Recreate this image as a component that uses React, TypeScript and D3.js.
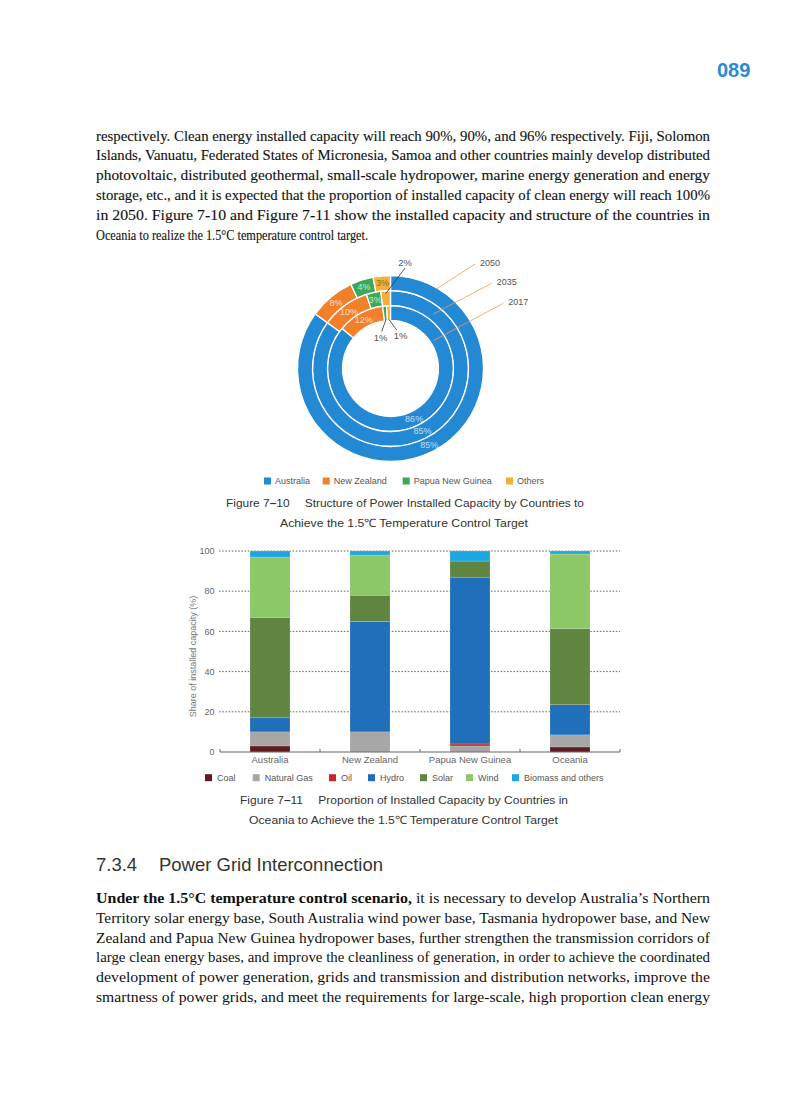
import * as d3 from 'd3';
import React from 'react';

// ---- Figure 7-10 data (share of installed capacity, %) ----
const years = ['2017', '2035', '2050'];
const countries = ['Australia', 'New Zealand', 'Papua New Guinea', 'Others'];
const share2017 = [86, 12, 1, 1];
const share2035 = [85, 10, 3, 2];
const share2050 = [85, 8, 4, 3];
const countryColors = ['#2389d4', '#f37f2a', '#3aa95a', '#f2b03a'];

// ---- Figure 7-11 data (share of installed capacity, %) ----
const regions = ['Australia', 'New Zealand', 'Papua New Guinea', 'Oceania'];
const fuels = ['Coal', 'Natural Gas', 'Oil', 'Hydro', 'Solar', 'Wind', 'Biomass and others'];
const coal = [3, 0, 0, 2.5];
const naturalGas = [7, 10, 3, 6];
const oil = [0, 0, 1, 0];
const hydro = [7, 55, 83, 15];
const solar = [50, 13, 8, 38];
const wind = [30, 20, 0, 37];
const biomass = [3, 2, 5, 1.5];
const fuelColors = ['#5e1c1e', '#a6a6a6', '#c9252c', '#1f6fba', '#5f8541', '#8cc866', '#1da6e1'];
const yTicks = [0, 20, 40, 60, 80, 100];

// ---- page text ----
const topLines = [
  'respectively. Clean energy installed capacity will reach 90%, 90%, and 96% respectively. Fiji, Solomon',
  'Islands, Vanuatu, Federated States of Micronesia, Samoa and other countries mainly develop distributed',
  'photovoltaic, distributed geothermal, small-scale hydropower, marine energy generation and energy',
  'storage, etc., and it is expected that the proportion of installed capacity of clean energy will reach 100%',
  'in 2050. Figure 7-10 and Figure 7-11 show the installed capacity and structure of the countries in',
  'Oceania to realize the 1.5\u00b0C temperature control target.',
];
const bottomLead = 'Under the 1.5\u00b0C temperature control scenario,';
const bottomLines = [
  ' it is necessary to develop Australia\u2019s Northern',
  'Territory solar energy base, South Australia wind power base, Tasmania hydropower base, and New',
  'Zealand and Papua New Guinea hydropower bases, further strengthen the transmission corridors of',
  'large clean energy bases, and improve the cleanliness of generation, in order to achieve the coordinated',
  'development of power generation, grids and transmission and distribution networks, improve the',
  'smartness of power grids, and meet the requirements for large-scale, high proportion clean energy',
];

const SANS = '"Liberation Sans", Arial, sans-serif';
const SERIF = '"Liberation Serif", "Times New Roman", serif';
const TEXT_LEFT = 96;
const TEXT_WIDTH = 614;

const Paragraph = ({ lines, top, lastWidth }: any) => (
  <g fontFamily={SERIF} fontSize={15.5} fill="#111" stroke="#111" strokeWidth={0.12}>
    {lines.map((l: string, i: number) => {
      const last = i === lines.length - 1 && lastWidth;
      return (
        <text
          key={i}
          x={TEXT_LEFT}
          y={top + i * 19.8}
          textLength={last ? lastWidth : TEXT_WIDTH}
          lengthAdjust="spacingAndGlyphs"
        >
          {l}
        </text>
      );
    })}
  </g>
);

const Donut = () => {
  const cx = 390.5;
  const cy = 368.5;
  const ring = d3.scaleLinear().domain([0, 3]).range([48, 93]);
  const pie = d3.pie<number>().sort(null).value((d) => d).startAngle(0).endAngle(Math.PI * 2);
  const rings = [share2017, share2035, share2050].map((vals, i) => ({
    year: years[i],
    inner: ring(i),
    outer: ring(i + 1),
    arcs: pie(vals),
  }));

  const polar = (a: number, r: number): [number, number] => [cx + r * Math.sin(a), cy - r * Math.cos(a)];

  // small slices labelled outside the ring
  const callouts = [
    { ringIdx: 1, slice: 3, r0: 75, end: [14.5, -100.5], text: [14.5, -103] },
    { ringIdx: 0, slice: 2, r0: 49, end: [-8.8, -36.8], text: [-9.8, -28] },
    { ringIdx: 0, slice: 3, r0: 49, end: [6.2, -38.5], text: [10.2, -30] },
  ];
  // year leader lines: from label to ring
  const yearLeaders = [
    { year: '2050', from: [84.5, -104.5], to: [45.5, -79.2] },
    { year: '2035', from: [101.2, -85.2], to: [42.8, -54.5] },
    { year: '2017', from: [112.8, -65.2], to: [42.8, -27.8] },
  ];

  const legendX = [264, 322.7, 402.7, 506];

  return (
    <g fontFamily={SANS}>
      {rings.map((r) => {
        const arc = d3.arc<any>().innerRadius(r.inner).outerRadius(r.outer);
        return (
          <g key={r.year} transform={`translate(${cx},${cy})`}>
            {r.arcs.map((a, j) => (
              <path key={j} d={arc(a) as string} fill={countryColors[j]} stroke="#fff" strokeWidth={1.3} />
            ))}
            {r.arcs.map((a, j) => {
              if (a.data < 3) return null;
              const [x, y] = arc.centroid(a);
              return (
                <text
                  key={'t' + j}
                  x={x}
                  y={y + 3.1}
                  textAnchor="middle"
                  fontSize={9}
                  fill={j === 3 ? '#7b5d1e' : '#ffffff'}
                  fillOpacity={j === 3 ? 0.9 : 0.72}
                >
                  {a.data}%
                </text>
              );
            })}
          </g>
        );
      })}
      {callouts.map((c, i) => {
        const a = rings[c.ringIdx].arcs[c.slice];
        const mid = (a.startAngle + a.endAngle) / 2;
        const [x0, y0] = polar(mid, c.r0);
        return (
          <g key={'c' + i}>
            <line x1={x0} y1={y0} x2={cx + c.end[0]} y2={cy + c.end[1]} stroke="#333" strokeWidth={0.8} />
            <text x={cx + c.text[0]} y={cy + c.text[1]} textAnchor="middle" fontSize={9.5} fill="#555">
              {a.data}%
            </text>
          </g>
        );
      })}
      {yearLeaders.map((l) => (
        <g key={l.year}>
          <line
            x1={cx + l.from[0]}
            y1={cy + l.from[1]}
            x2={cx + l.to[0]}
            y2={cy + l.to[1]}
            stroke="#f09a5a"
            strokeWidth={0.8}
          />
          <text x={cx + l.from[0] + 5} y={cy + l.from[1] + 1.5} fontSize={9} fill="#555">
            {l.year}
          </text>
        </g>
      ))}
      {countries.map((c, i) => (
        <g key={c}>
          <rect x={legendX[i]} y={477.5} width={7} height={7} fill={countryColors[i]} />
          <text x={legendX[i] + 11} y={484.3} fontSize={9} fill="#555">
            {c}
          </text>
        </g>
      ))}
      <text x={226} y={507} fontSize={11.5} fill="#333" textLength={358} lengthAdjust="spacingAndGlyphs">
        {'Figure 7'}
        <tspan fontWeight="bold">{'\u2013'}</tspan>
        {'10\u2003 Structure of Power Installed Capacity by Countries to'}
      </text>
      <text x={280} y={527} fontSize={11.5} fill="#333" textLength={248} lengthAdjust="spacingAndGlyphs">
        {'Achieve the 1.5\u2103 Temperature Control Target'}
      </text>
    </g>
  );
};

const StackedBars = () => {
  const x = d3.scaleBand().domain(regions).range([220, 620]).paddingInner(0.6).paddingOuter(0.3);
  const y = d3.scaleLinear().domain([0, 100]).range([752, 551]);
  const series = [coal, naturalGas, oil, hydro, solar, wind, biomass];
  const rows = regions.map((r, i) => {
    const row: any = { region: r };
    fuels.forEach((f, k) => (row[f] = series[k][i]));
    return row;
  });
  const stacked = d3.stack<any>().keys(fuels)(rows);
  const edges = d3.range(regions.length + 1).map((i) => 220 + i * x.step());
  const legendX = [205, 252.7, 329, 368, 420, 466, 512];

  return (
    <g fontFamily={SANS}>
      {yTicks.map((t) => (
        <g key={t}>
          {t > 0 && (
            <line x1={219} x2={620} y1={y(t)} y2={y(t)} stroke="#444" strokeWidth={0.8} strokeDasharray="1.6,1.6" />
          )}
          <text x={214.5} y={y(t) + 3.2} textAnchor="end" fontSize={9} fill="#666">
            {t}
          </text>
        </g>
      ))}
      {stacked.map((s, k) => (
        <g key={fuels[k]} fill={fuelColors[k]}>
          {s.map((d, i) =>
            d[1] - d[0] > 0 ? (
              <rect
                key={i}
                x={x(regions[i])}
                y={y(d[1])}
                width={x.bandwidth()}
                height={y(d[0]) - y(d[1])}
                stroke="#fff"
                strokeOpacity={0.35}
                strokeWidth={0.5}
              />
            ) : null,
          )}
        </g>
      ))}
      <line x1={220} x2={620} y1={752} y2={752} stroke="#666" strokeWidth={1} />
      {edges.map((e) => (
        <line key={e} x1={e} x2={e} y1={752} y2={749} stroke="#666" strokeWidth={1} />
      ))}
      {regions.map((r) => (
        <text key={r} x={(x(r) as number) + x.bandwidth() / 2} y={763} textAnchor="middle" fontSize={9.5} fill="#666">
          {r}
        </text>
      ))}
      <text
        transform="translate(195.5,656.5) rotate(-90)"
        textAnchor="middle"
        fontSize={9}
        fill="#777"
      >
        Share of installed capacity (%)
      </text>
      {fuels.map((f, i) => (
        <g key={f}>
          <rect x={legendX[i]} y={774.2} width={7} height={7} fill={fuelColors[i]} />
          <text x={legendX[i] + 12} y={781} fontSize={9} fill="#555">
            {f}
          </text>
        </g>
      ))}
      <text x={240} y={803.5} fontSize={11.5} fill="#333" textLength={328} lengthAdjust="spacingAndGlyphs">
        {'Figure 7'}
        <tspan fontWeight="bold">{'\u2013'}</tspan>
        {'11\u2003 Proportion of Installed Capacity by Countries in'}
      </text>
      <text x={249} y={823.5} fontSize={11.5} fill="#333" textLength={309} lengthAdjust="spacingAndGlyphs">
        {'Oceania to Achieve the 1.5\u2103 Temperature Control Target'}
      </text>
    </g>
  );
};

export default function App() {
  return (
    <svg
      width={793}
      height={1100}
      viewBox="0 0 793 1100"
      style={{ position: 'absolute', left: 0, top: 0, background: '#fff' }}
    >
      <rect width={793} height={1100} fill="#fff" />
      <text x={717} y={77} fontFamily={SANS} fontWeight="bold" fontSize={20} fill="#2a8bd2">
        089
      </text>
      <Paragraph lines={topLines} top={140.5} lastWidth={272} />
      <Donut />
      <StackedBars />
      <g fontFamily={SANS} fontSize={18.5} fill="#333">
        <text x={96} y={871}>7.3.4</text>
        <text x={159} y={871} textLength={224} lengthAdjust="spacingAndGlyphs">
          Power Grid Interconnection
        </text>
      </g>
      <g fontFamily={SERIF} fontSize={15.5} fill="#111">
        <text x={TEXT_LEFT} y={903} textLength={TEXT_WIDTH} lengthAdjust="spacingAndGlyphs">
          <tspan fontWeight="bold">{bottomLead}</tspan>
          {bottomLines[0]}
        </text>
        {bottomLines.slice(1).map((l, i) => (
          <text
            key={i}
            x={TEXT_LEFT}
            y={903 + (i + 1) * 19.8}
            textLength={TEXT_WIDTH}
            lengthAdjust="spacingAndGlyphs"
          >
            {l}
          </text>
        ))}
      </g>
    </svg>
  );
}
